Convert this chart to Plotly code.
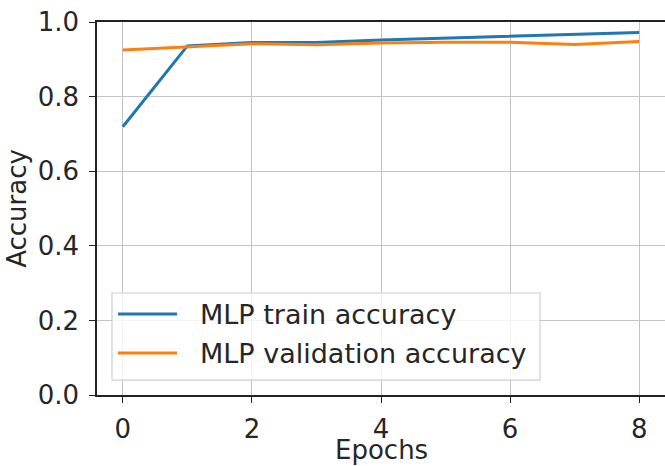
import plotly.graph_objects as go

epochs = [0, 1, 2, 3, 4, 5, 6, 7, 8]
train_acc = [0.719, 0.936, 0.945, 0.945, 0.952, 0.957, 0.962, 0.967, 0.972]
val_acc = [0.925, 0.933, 0.942, 0.939, 0.944, 0.946, 0.946, 0.940, 0.948]
series_names = ["MLP train accuracy", "MLP validation accuracy"]
colors = ["#1f77b4", "#ff7f0e"]

font = "DejaVu Sans"
fs = 26
txt = "#262626"
fig = go.Figure()
for name, ys, c in zip(series_names, [train_acc, val_acc], colors):
    fig.add_trace(go.Scatter(x=epochs, y=ys, mode="lines", name=name, showlegend=False,
                             line=dict(color=c, width=3)))

axis_common = dict(showline=True, linecolor="#222", linewidth=1.5,
                   showgrid=True, gridcolor="#c4c4c4", gridwidth=1.2,
                   ticks="outside", ticklen=6, tickcolor="#222",
                   tickfont=dict(family=font, size=fs, color=txt),
                   zeroline=False)
fig.update_xaxes(range=[-0.4, 8.4], tickvals=[0, 2, 4, 6, 8], mirror=True,
                 ticklabelstandoff=4, **axis_common)
fig.update_yaxes(range=[0, 1], tickvals=[0, 0.2, 0.4, 0.6, 0.8, 1.0], tickformat=".1f", mirror=False,
                 ticklabelstandoff=5,
                 title=dict(text="Accuracy", font=dict(family=font, size=fs, color=txt), standoff=4),
                 **axis_common)

# x-axis title placed as text below the tick labels
fig.add_annotation(xref="paper", yref="paper", x=0.5, y=-0.1475, text="Epochs", showarrow=False,
                   xanchor="center", yanchor="middle", font=dict(family=font, size=fs, color=txt))

# legend drawn in plot-area (paper) coordinates
fig.add_shape(type="rect", xref="paper", yref="paper", x0=0.0264, x1=0.780, y0=0.040, y1=0.2735,
              fillcolor="rgba(255,255,255,0.8)", line=dict(color="#d0d0d0", width=1.2), layer="above")
leg_y = [0.217, 0.1126]
for name, c, yy in zip(series_names, colors, leg_y):
    fig.add_shape(type="line", xref="paper", yref="paper", x0=0.037, x1=0.141, y0=yy, y1=yy,
                  line=dict(color=c, width=3), layer="above")
    fig.add_annotation(xref="paper", yref="paper", x=0.178, y=yy, text=name, showarrow=False,
                       xanchor="left", yanchor="middle",
                       font=dict(family=font, size=27, color=txt))

fig.update_layout(width=665, height=466, margin=dict(l=97, r=0, t=22, b=71),
                  plot_bgcolor="white", paper_bgcolor="white",
                  font=dict(family=font))
fig.write_html("out.html")
